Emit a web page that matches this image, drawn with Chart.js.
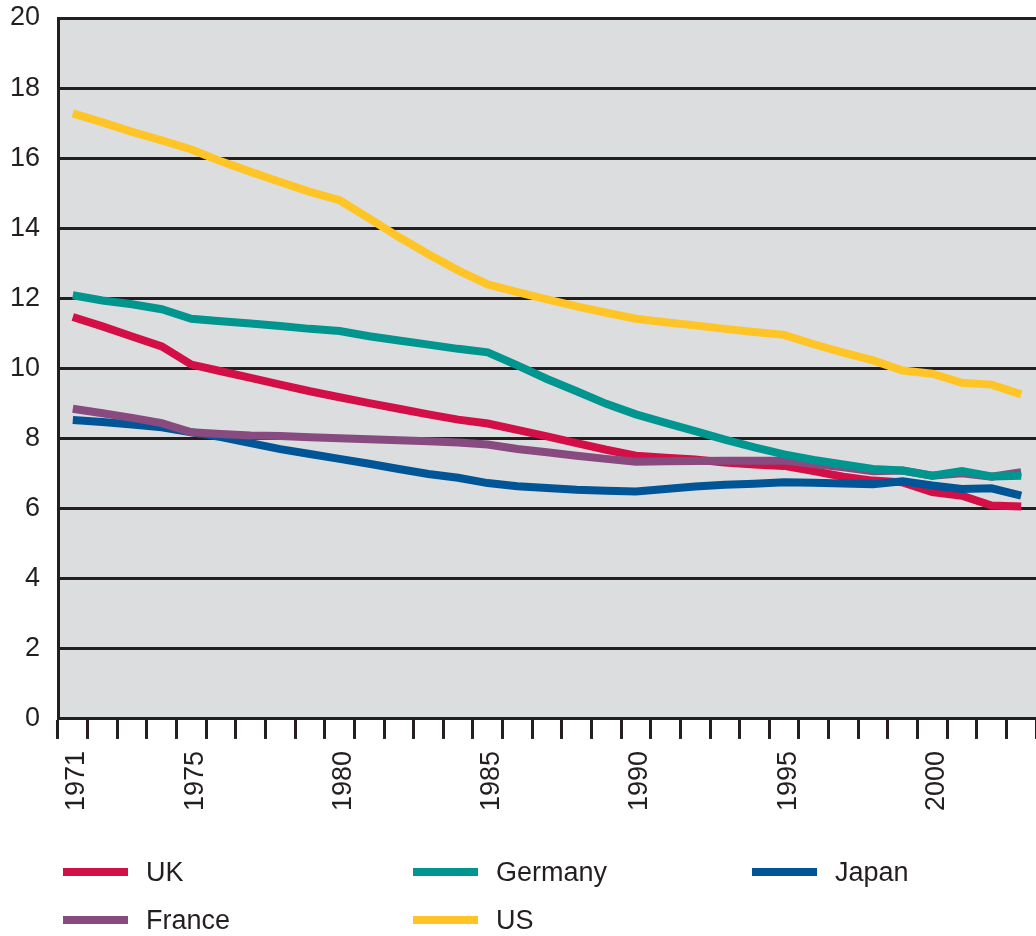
<!DOCTYPE html>
<html>
<head>
<meta charset="utf-8">
<script src="https://cdn.jsdelivr.net/npm/chart.js@4/dist/chart.umd.min.js"></script>
<style>
  html, body { margin: 0; padding: 0; background: #ffffff; }
  #wrap { position: relative; width: 1036px; height: 936px; overflow: hidden; }
  canvas { position: absolute; left: 0; top: 0; }
  .lg { position: absolute; font-family: "Liberation Sans", Arial, sans-serif; font-size: 27px; color: #231f20; line-height: 1; }
  .sw { position: absolute; width: 65px; height: 8px; }
</style>
</head>
<body>
<div id="wrap">
  <canvas id="c" width="1036" height="936"></canvas>
  <div id="legend"></div>
</div>
<script>
// ---- data ----
const years = ['1971','1972','1973','1974','1975','1976','1977','1978','1979','1980',
  '1981','1982','1983','1984','1985','1986','1987','1988','1989','1990',
  '1991','1992','1993','1994','1995','1996','1997','1998','1999','2000',
  '2001','2002','2003'];
const shownYearLabels = ['1971','1975','1980','1985','1990','1995','2000'];
const yTickValues = [0,2,4,6,8,10,12,14,16,18,20];

const ukValues = [11.47,11.2,10.91,10.63,10.11,9.92,9.73,9.54,9.35,9.18,
  9.01,8.85,8.69,8.54,8.43,8.25,8.06,7.87,7.68,7.51,
  7.45,7.4,7.32,7.26,7.22,7.07,6.91,6.8,6.75,6.47,
  6.37,6.09,6.06];
const germanyValues = [12.09,11.94,11.83,11.69,11.42,11.35,11.28,11.21,11.13,11.07,
  10.92,10.8,10.68,10.56,10.46,10.09,9.7,9.35,8.99,8.69,
  8.45,8.21,7.97,7.75,7.55,7.39,7.26,7.13,7.09,6.94,
  7.07,6.92,6.94];
const japanValues = [8.53,8.47,8.4,8.32,8.18,8.04,7.87,7.7,7.56,7.42,
  7.28,7.13,6.99,6.88,6.73,6.64,6.59,6.54,6.51,6.49,
  6.56,6.63,6.68,6.71,6.75,6.74,6.72,6.7,6.78,6.66,
  6.56,6.58,6.37];
const franceValues = [8.85,8.72,8.59,8.44,8.18,8.13,8.09,8.07,8.04,8.01,
  7.98,7.95,7.92,7.89,7.83,7.7,7.61,7.51,7.42,7.34,
  7.35,7.36,7.37,7.37,7.37,7.27,7.18,7.07,7.09,6.94,
  7.01,6.91,7.04];
const usValues = [17.28,17.02,16.75,16.51,16.25,15.91,15.61,15.32,15.04,14.8,
  14.28,13.75,13.26,12.8,12.4,12.18,11.97,11.77,11.59,11.42,
  11.32,11.23,11.13,11.04,10.96,10.69,10.45,10.23,9.94,9.85,
  9.59,9.54,9.26];

const seriesNames = ['UK','Germany','Japan','France','US'];

// ---- styles ----
const INK = '#231f20';
const colors = { UK: '#d20f46', Germany: '#00968f', Japan: '#005596', France: '#874b80', US: '#ffc425' };
const drawOrder = { UK: 5, Japan: 4, France: 3, Germany: 2, US: 1 }; // lower = on top
const legendPos = { UK: [63, 872], Germany: [413, 872], Japan: [752, 872], France: [63, 920], US: [413, 920] };
const FONT = '"Liberation Sans", Arial, sans-serif';

const valuesBy = { UK: ukValues, Germany: germanyValues, Japan: japanValues, France: franceValues, US: usValues };

const datasets = seriesNames.map(n => ({
  label: n,
  data: valuesBy[n],
  borderColor: colors[n],
  backgroundColor: colors[n],
  borderWidth: 8,
  pointRadius: 0,
  pointHoverRadius: 0,
  tension: 0,
  fill: false,
  order: drawOrder[n],
  borderCapStyle: 'butt',
  borderJoinStyle: 'miter'
}));

const plotBg = {
  id: 'plotBg',
  beforeDraw(chart) {
    const a = chart.chartArea, c = chart.ctx;
    c.save();
    c.fillStyle = '#dcdddf';
    c.fillRect(a.left, a.top, a.right - a.left, a.bottom - a.top);
    c.restore();
  }
};

const chart = new Chart(document.getElementById('c'), {
  type: 'line',
  data: { labels: years, datasets },
  plugins: [plotBg],
  options: {
    responsive: false,
    animation: false,
    events: [],
    layout: { padding: { left: 0, right: 0, top: 18, bottom: 113 } },
    plugins: { legend: { display: false }, tooltip: { enabled: false } },
    scales: {
      x: {
        type: 'category',
        offset: true,
        afterFit: s => { s.paddingLeft = 0; s.paddingRight = 0; },
        grid: {
          offset: true,
          drawOnChartArea: false,
          drawTicks: true,
          tickLength: 20,
          tickWidth: 3,
          tickColor: ctx => (ctx.index >= years.length ? 'rgba(0,0,0,0)' : INK)
        },
        border: { display: true, color: INK, width: 3 },
        ticks: {
          autoSkip: false,
          maxRotation: 90,
          minRotation: 90,
          padding: 12,
          labelOffset: 4,
          color: INK,
          font: { family: FONT, size: 27 },
          callback: function (v, i) {
            const lab = this.getLabelForValue(v);
            return shownYearLabels.includes(lab) ? lab : '';
          }
        }
      },
      y: {
        min: 0,
        max: 20,
        afterFit: s => { s.width = 58; s.paddingTop = 0; s.paddingBottom = 0; },
        afterBuildTicks: s => { s.ticks = yTickValues.map(v => ({ value: v })); },
        grid: { color: INK, lineWidth: 3, drawTicks: false },
        border: { display: true, color: INK, width: 3 },
        ticks: {
          padding: 18,
          color: INK,
          font: { family: FONT, size: 27 }
        }
      }
    }
  }
});

// HTML legend built from the chart's datasets
const lg = document.getElementById('legend');
chart.data.datasets.forEach(ds => {
  const [x, y] = legendPos[ds.label];
  const sw = document.createElement('div');
  sw.className = 'sw';
  sw.style.left = x + 'px';
  sw.style.top = (y - 4) + 'px';
  sw.style.background = ds.borderColor;
  lg.appendChild(sw);
  const t = document.createElement('div');
  t.className = 'lg';
  t.textContent = ds.label;
  t.style.left = (x + 83) + 'px';
  t.style.top = (y - 13) + 'px';
  lg.appendChild(t);
});
</script>
</body>
</html>
